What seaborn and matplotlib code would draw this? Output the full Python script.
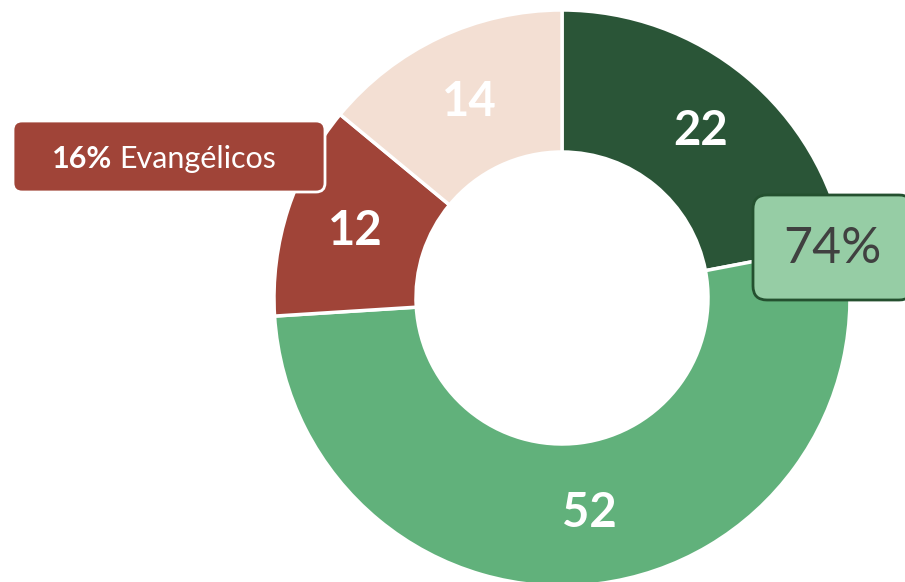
import numpy as np
import matplotlib
matplotlib.use("Agg")
import matplotlib.pyplot as plt
import seaborn as sns
from matplotlib.patches import FancyBboxPatch

# data
categories = ["Católicos practicantes", "Católicos no practicantes", "Evangélicos", "Otros"]
values = [22, 52, 12, 14]
colors = ["#2A5537", "#61B17B", "#A04438", "#F3DFD3"]
evangelicos_label = "16%"
evangelicos_name = "Evangélicos"

sns.set_theme(style="white")
plt.rcParams["font.family"] = ["Lato", "DejaVu Sans"]

fig = plt.figure(figsize=(9.05, 5.82), dpi=100)
ax = fig.add_axes([0, 0, 1, 1])

cx, cy, r_out, ring = 562, 284, 288, 142
wedges, _ = ax.pie(
    values,
    colors=colors,
    center=(cx, cy),
    radius=r_out,
    startangle=90,
    counterclock=False,
    wedgeprops=dict(width=ring, edgecolor="white", linewidth=2.5),
)
ax.set_xlim(0, 905)
ax.set_ylim(0, 582)
ax.set_aspect("equal")
ax.axis("off")

# value labels in the middle of the ring
r_mid = r_out - ring / 2
for w, v in zip(wedges, values):
    ang = np.deg2rad((w.theta1 + w.theta2) / 2)
    ax.text(cx + r_mid * np.cos(ang), cy + r_mid * np.sin(ang), str(v),
            ha="center", va="center", color="white", fontsize=34,
            fontweight="bold")

# total of the two green groups
green_total = values[0] + values[1]
gbox = FancyBboxPatch((753, 282), 160, 105,
                      boxstyle="round,pad=0,rounding_size=14",
                      fc="#96CDA5", ec="#24502F", lw=2, clip_on=False)
ax.add_patch(gbox)
ax.text(832, 333, f"{green_total}%", ha="center", va="center",
        fontsize=36, fontweight="normal", color="#404040")

# evangelicos tag
box = FancyBboxPatch((13, 390), 312, 71,
                     boxstyle="round,pad=0,rounding_size=9",
                     fc="#A04438", ec="white", lw=2)
ax.add_patch(box)
t1 = ax.text(52, 423, evangelicos_label, ha="left", va="center",
             color="white", fontsize=22, fontweight="bold")
ax.annotate(evangelicos_name, xy=(1, 0.5), xycoords=t1, xytext=(5, 0),
            textcoords="offset points", ha="left", va="center",
            color="white", fontsize=22)

fig.savefig("out.png", dpi=100)
